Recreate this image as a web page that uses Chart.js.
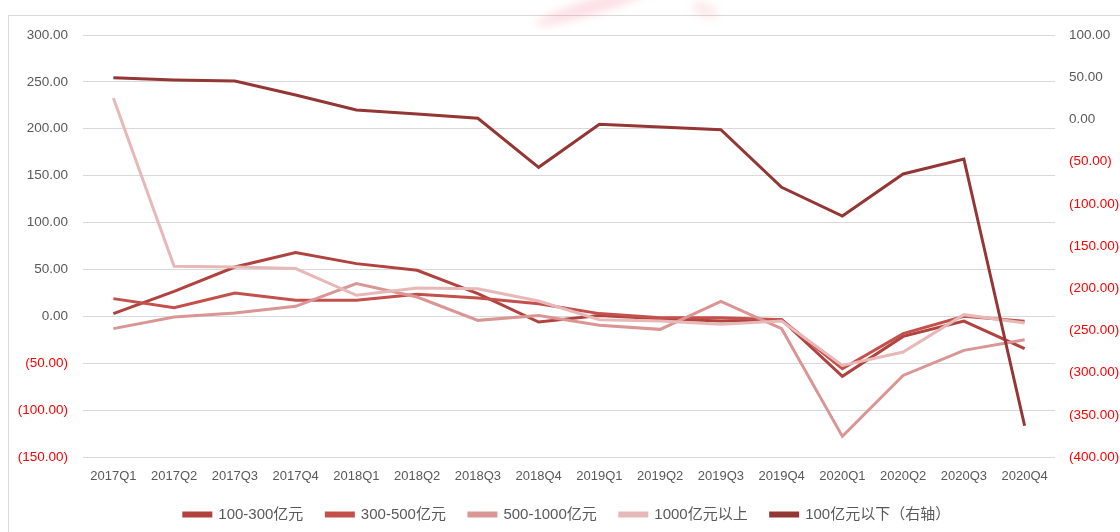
<!DOCTYPE html>
<html>
<head>
<meta charset="utf-8">
<script src="https://cdn.jsdelivr.net/npm/chart.js@4"></script>
<style>
  html, body { margin: 0; padding: 0; background: #fff; }
  #wrap { position: relative; width: 1120px; height: 532px; }
</style>
</head>
<body>
<div id="wrap"><canvas id="scaleChart"></canvas></div>
<script>
// data
const quarters = ['2017Q1', '2017Q2', '2017Q3', '2017Q4', '2018Q1', '2018Q2', '2018Q3', '2018Q4',
  '2019Q1', '2019Q2', '2019Q3', '2019Q4', '2020Q1', '2020Q2', '2020Q3', '2020Q4'];

const seriesNames = ['100-300亿元', '300-500亿元', '500-1000亿元', '1000亿元以上', '100亿元以下（右轴）'];

const scale100to300 = [2.9, 26.7, 52.6, 68.0, 56.2, 49.1, 24.2, -6.1, 1.0, -2.5, -5.0, -3.6, -64.0, -21.4, -5.0, -34.5];
const scale300to500 = [18.9, 9.3, 24.9, 17.1, 17.1, 23.5, 19.6, 13.5, 2.9, -1.4, -1.4, -3.6, -55.9, -18.5, 0.0, -5.3];
const scale500to1000 = [-13.1, -0.7, 3.6, 10.7, 34.9, 20.6, -4.3, 1.0, -9.6, -13.9, 16.0, -13.2, -128.0, -63.0, -36.3, -24.9];
const scaleAbove1000 = [232.7, 53.4, 52.7, 50.9, 22.4, 30.2, 29.5, 16.4, -3.6, -5.0, -8.5, -5.0, -52.3, -38.0, 1.8, -7.1];
const scaleBelow100 = [49.4, 46.7, 45.5, 28.9, 11.1, 6.4, 1.3, -56.8, -5.8, -9.0, -12.2, -80.5, -114.5, -64.7, -46.9, -363.0];

const leftTicks = { min: -150, max: 300, step: 50 };
const rightTicks = { min: -400, max: 100, step: 50 };

const colors = ['#B0433E', '#C4504B', '#D99694', '#E6B9B8', '#943634'];
const textGray = '#595959';
const negRed = '#FF0000';

// excel style number: 2 decimals, negatives in brackets
function fmtNum(v) {
  const s = Math.abs(v).toFixed(2);
  return v < 0 ? `(${s})` : s;
}

// frame + faint watermark behind the chart
const framePlugin = {
  id: 'frame',
  beforeDraw(chart) {
    const c = chart.ctx;
    c.save();
    c.fillStyle = '#fff';
    c.fillRect(0, 0, chart.width, chart.height);
    c.strokeStyle = '#D9D9D9';
    c.lineWidth = 1;
    c.strokeRect(8.5, 15.5, 1300, 700);

    c.filter = 'blur(4px)';
    c.fillStyle = 'rgba(240, 120, 140, 0.22)';
    c.beginPath();
    c.ellipse(595, 6, 62, 8, -0.3, 0, Math.PI * 2);
    c.fill();
    c.fillStyle = 'rgba(240, 140, 150, 0.18)';
    c.beginPath();
    c.ellipse(705, 10, 14, 7, 0.4, 0, Math.PI * 2);
    c.fill();
    c.restore();
  }
};

const series = [scale100to300, scale300to500, scale500to1000, scaleAbove1000, scaleBelow100];

const datasets = series.map((data, i) => ({
  label: seriesNames[i],
  data: data,
  borderColor: colors[i],
  backgroundColor: colors[i],
  borderWidth: 3,
  pointRadius: 0,
  tension: 0,
  yAxisID: i === 4 ? 'yRight' : 'yLeft',
  order: 5 - i
}));

const xFont = { size: 13, family: "'Liberation Sans', sans-serif" };
const yFont = { size: 13.5, family: "'Liberation Sans', sans-serif" };

const ctx = document.getElementById('scaleChart');

new Chart(ctx, {
  type: 'line',
  data: { labels: quarters, datasets: datasets },
  options: {
    responsive: true,
    maintainAspectRatio: false,
    animation: false,
    layout: { padding: { left: 14, right: 0, top: 35, bottom: 0 } },
    plugins: {
      legend: {
        position: 'bottom',
        labels: {
          boxWidth: 27,
          boxHeight: 3,
          padding: 23,
          color: textGray,
          font: { size: 15, family: "'Liberation Sans', 'Noto Sans CJK SC', sans-serif" },
          sort: (a, b) => a.datasetIndex - b.datasetIndex
        }
      },
      tooltip: { enabled: false }
    },
    scales: {
      x: {
        offset: true,
        grid: { display: false, drawTicks: false },
        border: { display: false },
        afterFit: (scale) => { scale.height = 27; },
        ticks: {
          color: textGray,
          padding: 12,
          maxRotation: 0,
          autoSkip: false,
          font: xFont
        }
      },
      yLeft: {
        position: 'left',
        min: leftTicks.min,
        max: leftTicks.max,
        grid: { color: '#D9D9D9', drawTicks: false },
        border: { display: false },
        afterFit: (scale) => { scale.width = 69; },
        ticks: {
          stepSize: leftTicks.step,
          padding: 15,
          color: (c) => c.tick.value < 0 ? negRed : textGray,
          font: yFont,
          callback: (v) => fmtNum(v)
        }
      },
      yRight: {
        position: 'right',
        min: rightTicks.min,
        max: rightTicks.max,
        grid: { display: false, drawTicks: false },
        border: { display: false },
        afterFit: (scale) => { scale.width = 65; },
        ticks: {
          stepSize: rightTicks.step,
          padding: 14,
          color: (c) => c.tick.value < 0 ? negRed : textGray,
          font: yFont,
          callback: (v) => fmtNum(v)
        }
      }
    }
  },
  plugins: [framePlugin]
});
</script>
</body>
</html>
